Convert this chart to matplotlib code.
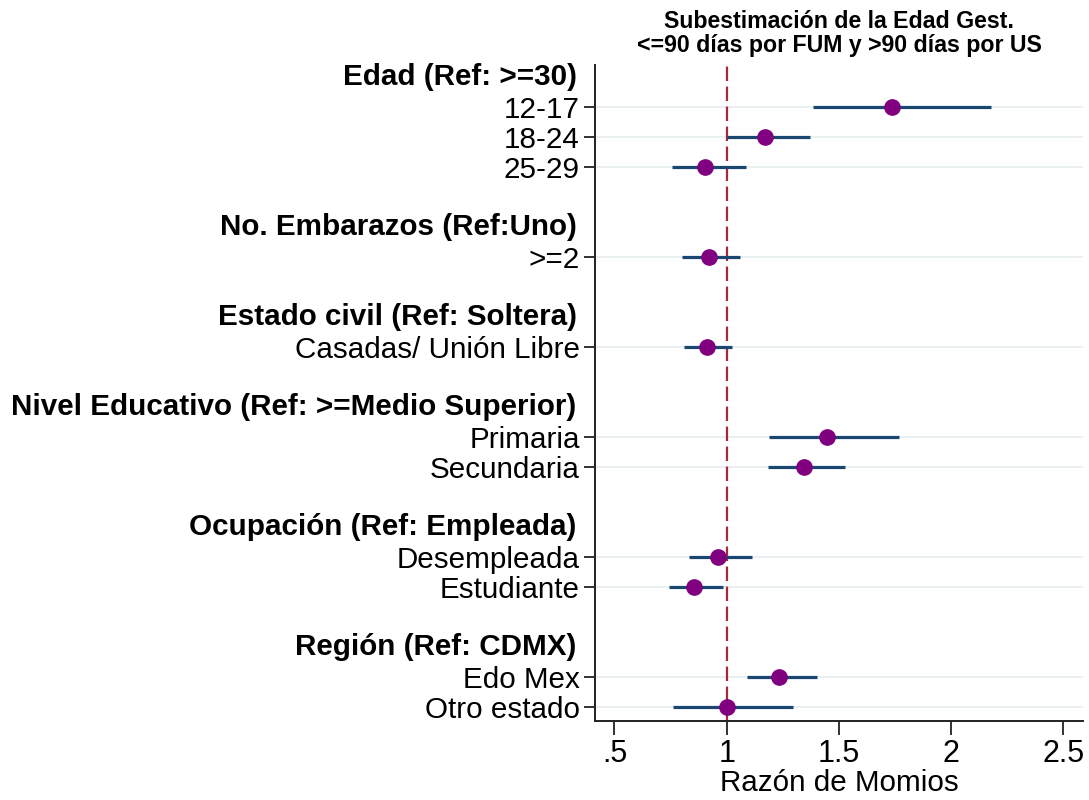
import matplotlib
matplotlib.use("Agg")
import matplotlib.pyplot as plt

plt.rcParams['font.family'] = ['Liberation Sans', 'DejaVu Sans']

# group headers (reference categories)
groups = ["Edad (Ref: >=30)",
          "No. Embarazos (Ref:Uno)",
          "Estado civil (Ref: Soltera)",
          "Nivel Educativo (Ref: >=Medio Superior)",
          "Ocupación (Ref: Empleada)",
          "Región (Ref: CDMX)"]

# categories inside each group
labels = [["12-17", "18-24", "25-29"],
          [">=2"],
          ["Casadas/ Unión Libre"],
          ["Primaria", "Secundaria"],
          ["Desempleada", "Estudiante"],
          ["Edo Mex", "Otro estado"]]

# odds ratios and 95% CI
odds = [[1.735, 1.172, 0.905],
        [0.921],
        [0.911],
        [1.447, 1.343],
        [0.961, 0.856],
        [1.234, 1.000]]
ci_low = [[1.383, 1.000, 0.755],
          [0.802],
          [0.811],
          [1.188, 1.183],
          [0.833, 0.744],
          [1.089, 0.762]]
ci_high = [[2.176, 1.371, 1.085],
           [1.058],
           [1.024],
           [1.767, 1.526],
           [1.111, 0.982],
           [1.402, 1.294]]

x_ticks = [0.5, 1, 1.5, 2, 2.5]
x_ticklabels = [".5", "1", "1.5", "2", "2.5"]

fig = plt.figure(figsize=(10.89, 8), dpi=100)
ax = fig.add_axes([0.5464, 0.0991, 0.9945 - 0.5464, 0.91875 - 0.0991])

navy = "#1a476f"
purple = "#800080"
red = "#a8263e"

header_rows = []
item_rows = []
item_labels = []
row = 0
for g in range(len(groups)):
    header_rows.append(row)
    for i in range(len(labels[g])):
        r = row + 1 + i
        item_rows.append(r)
        item_labels.append(labels[g][i])
        ax.plot([ci_low[g][i], ci_high[g][i]], [r, r], color=navy, lw=2.3,
                solid_capstyle="butt", zorder=3)
        ax.plot(odds[g][i], r, "o", color=purple, ms=11, zorder=4)
    row += len(labels[g]) + 2

# light grid at each category
for r in item_rows:
    ax.axhline(r, color="#e8eef0", lw=1.3, zorder=1)

ax.axvline(1, color=red, lw=1.6, dashes=(6.5, 2.5), zorder=2)

ax.set_xlim(0.4134, 2.587)
ax.set_ylim(item_rows[-1] + 0.47, -0.41)

ax.set_yticks(item_rows)
ax.set_yticklabels(item_labels, fontsize=21.3)
for h, name in zip(header_rows, groups):
    ax.text(-0.0375, h, name, transform=ax.get_yaxis_transform(),
            ha="right", va="center", fontsize=21.3, fontweight="bold")

ax.set_xticks(x_ticks)
ax.set_xticklabels(x_ticklabels, fontsize=22)
ax.set_xlabel("Razón de Momios", fontsize=21.3, labelpad=0)

ax.tick_params(axis="y", length=8, width=1.3, pad=3, colors="#222222",
               labelcolor="black")
ax.tick_params(axis="x", length=10, width=1.3, pad=3, colors="#222222",
               labelcolor="black")

for s in ["top", "right"]:
    ax.spines[s].set_visible(False)
for s in ["left", "bottom"]:
    ax.spines[s].set_linewidth(1.4)
    ax.spines[s].set_color("#222222")

fig.text(0.7705, 0.973, "Subestimación de la Edad Gest.", ha="center",
         va="center", fontsize=16.7, fontweight="bold")
fig.text(0.7705, 0.943, "<=90 días por FUM y >90 días por US", ha="center",
         va="center", fontsize=16.7, fontweight="bold")

fig.savefig("out.png", dpi=100)
